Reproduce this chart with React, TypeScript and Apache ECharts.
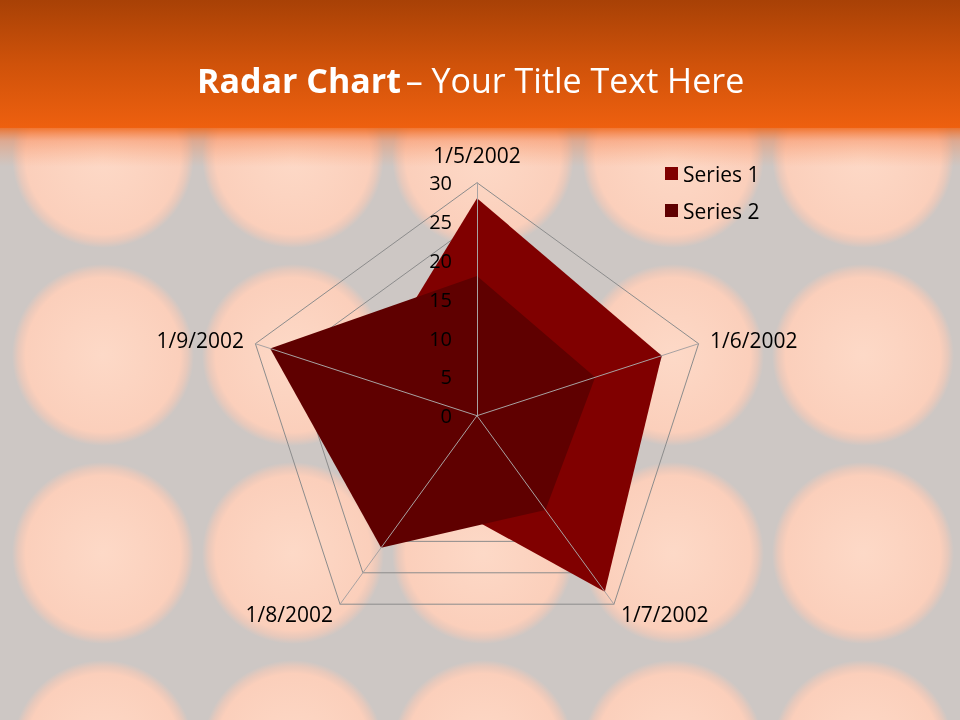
import React, { useEffect, useRef } from 'react';
import * as echarts from 'echarts';

const categories = ['1/5/2002', '1/6/2002', '1/7/2002', '1/8/2002', '1/9/2002'];
const series1 = [28, 25, 28, 12, 15];
const series2 = [18, 16, 15, 21, 28];
const seriesNames = ['Series 1', 'Series 2'];
const seriesColors = ['#800000', '#5f0000'];
const axisMin = 0;
const axisMax = 30;
const splitCount = 6;

const FONT = '"Open Sans", sans-serif';

export default function App() {
  const ref = useRef<HTMLDivElement>(null);
  useEffect(() => {
    if (!ref.current) return;
    const chart = echarts.init(ref.current, undefined, { renderer: 'svg' });

    // ECharts places indicators counter-clockwise; the reference runs clockwise.
    const order = [0, 4, 3, 2, 1];
    const center = [477, 415.7];
    const radius = 233;

    const baseIndicators = order.map((i) => ({ name: categories[i], min: axisMin, max: axisMax }));
    const topIndicators = order.map((i, k) =>
      k === 0
        ? {
            name: categories[i], min: axisMin, max: axisMax,
            axisLabel: { show: true, color: '#000', fontSize: 20, fontFamily: FONT, margin: 25, lineHeight: 18 },
          }
        : { name: categories[i], min: axisMin, max: axisMax }
    );

    // Background decoration: grey slide with soft peach discs and orange header
    const bg: any[] = [
      { type: 'rect', z: -20, shape: { x: 0, y: 0, width: 960, height: 720 }, style: { fill: '#cdc7c4' }, silent: true },
    ];
    for (let r = 0; r < 4; r++) {
      for (let c = 0; c < 5; c++) {
        bg.push({
          type: 'circle', z: -19, silent: true,
          shape: { cx: 103 + 190 * c, cy: 157 + 198 * r, r: 91 },
          style: {
            fill: {
              type: 'radial', x: 0.5, y: 0.5, r: 0.5,
              colorStops: [
                { offset: 0, color: '#fdd9c7' },
                { offset: 0.85, color: '#fbcfbb' },
                { offset: 0.93, color: 'rgba(249,202,182,0.6)' },
                { offset: 1, color: 'rgba(249,202,182,0)' },
              ],
            },
          },
        });
      }
    }
    bg.push({
      type: 'rect', z: -18, silent: true, shape: { x: 0, y: 0, width: 960, height: 128 },
      style: {
        fill: {
          type: 'linear', x: 0, y: 0, x2: 0, y2: 1,
          colorStops: [
            { offset: 0, color: '#a84106' },
            { offset: 0.5, color: '#cf520a' },
            { offset: 1, color: '#ee600f' },
          ],
        },
      },
    });
    bg.push({
      type: 'rect', z: -18, silent: true, shape: { x: 0, y: 127, width: 960, height: 40 },
      style: {
        fill: {
          type: 'linear', x: 0, y: 0, x2: 0, y2: 1,
          colorStops: [
            { offset: 0, color: 'rgba(238,96,15,0.85)' },
            { offset: 0.35, color: 'rgba(245,125,70,0.4)' },
            { offset: 1, color: 'rgba(250,150,100,0)' },
          ],
        },
      },
    });

    const option: any = {
      animation: false,
      textStyle: { fontFamily: FONT },
      graphic: { elements: bg },
      title: {
        text: '{b|Radar Chart} {r|– Your Title Text Here}',
        left: 192,
        top: 58,
        textStyle: {
          fontWeight: 'normal',
          rich: {
            b: { fontFamily: FONT, fontWeight: 'bold', fontSize: 34, color: '#fff' },
            r: { fontFamily: FONT, fontWeight: 'normal', fontSize: 34, color: '#fff' },
          },
        },
      },
      legend: {
        data: seriesNames,
        orient: 'vertical',
        left: 660,
        top: 158,
        icon: 'rect',
        itemWidth: 13,
        itemHeight: 13,
        itemGap: 16,
        textStyle: { color: '#000', fontSize: 21, fontFamily: FONT },
      },
      radar: [
        {
          center, radius, startAngle: 90, shape: 'polygon', splitNumber: splitCount,
          indicator: baseIndicators,
          nameGap: 12,
          axisName: { color: '#000', fontSize: 21, fontFamily: FONT, lineHeight: 21, padding: [0, 0, 5, 0] },
          splitLine: { show: true, lineStyle: { color: '#8c8c8c', width: 1 } },
          splitArea: { show: false },
          axisLine: { show: false },
          axisTick: { show: false },
          axisLabel: { show: false },
          z: 1,
        },
        {
          center, radius, startAngle: 90, shape: 'polygon', splitNumber: splitCount,
          indicator: topIndicators,
          axisName: { show: false },
          splitLine: { show: false },
          splitArea: { show: false },
          axisLine: { show: true, lineStyle: { color: '#a8a2a2', width: 1 } },
          axisTick: { show: false },
          axisLabel: { show: false },
          z: 5,
        },
      ],
      series: [series1, series2].map((vals, s) => ({
        type: 'radar',
        name: seriesNames[s],
        radarIndex: 0,
        z: 2 + s,
        symbol: 'none',
        itemStyle: { color: seriesColors[s] },
        lineStyle: { width: 0, color: seriesColors[s] },
        areaStyle: { color: seriesColors[s], opacity: 1 },
        data: [{ name: seriesNames[s], value: order.map((i) => vals[i]) }],
      })),
    };
    chart.setOption(option);
    return () => chart.dispose();
  }, []);

  return (
    <div
      ref={ref}
      style={{ position: 'fixed', left: 0, top: 0, width: 960, height: 720 }}
    />
  );
}
